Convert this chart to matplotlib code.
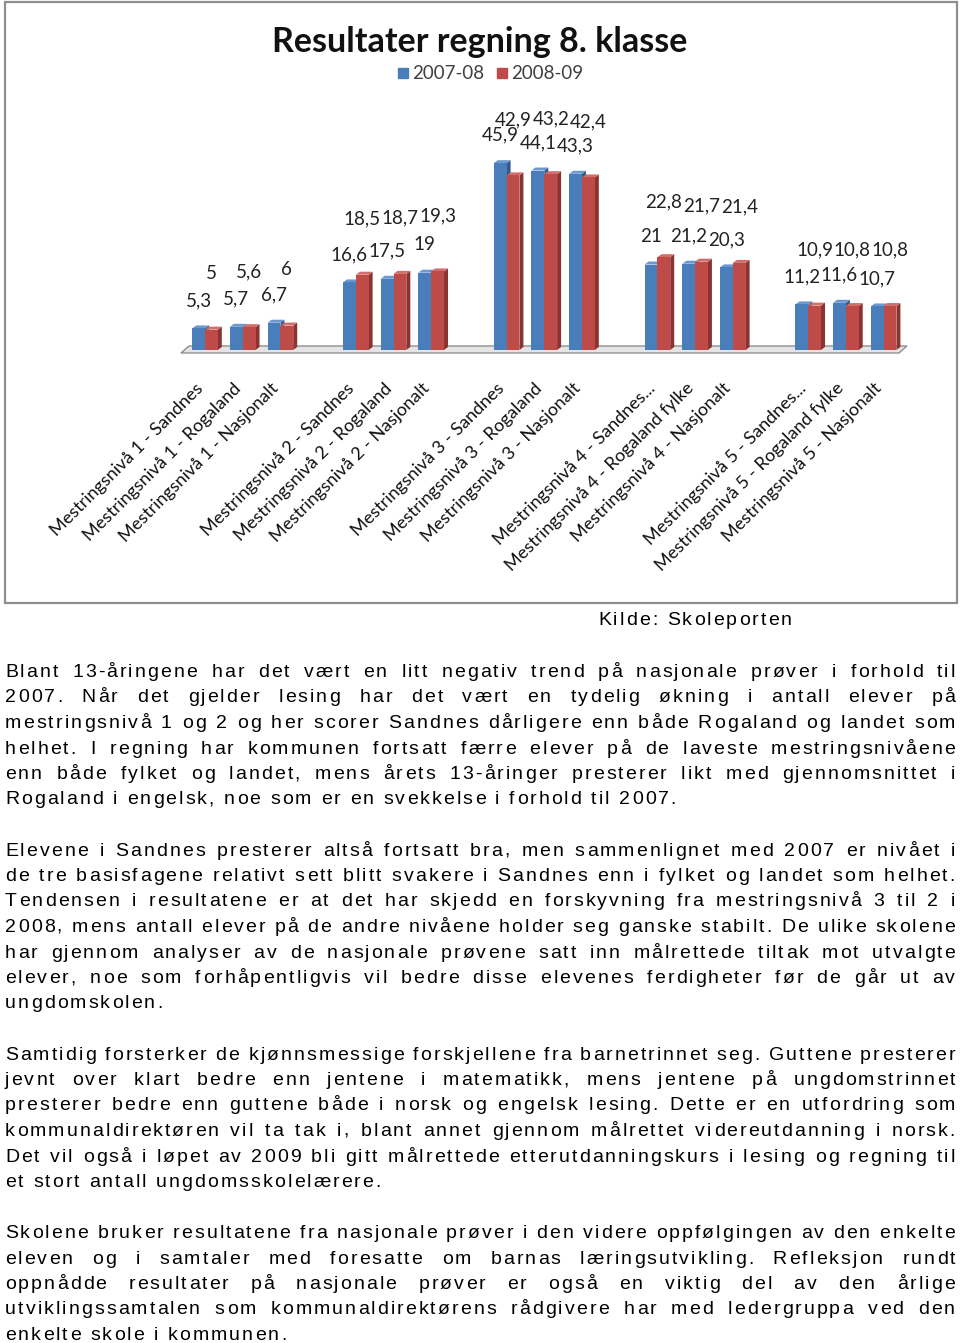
import matplotlib
matplotlib.use("Agg")
import matplotlib.pyplot as plt
from matplotlib.patches import Rectangle, Polygon
from matplotlib.transforms import ScaledTranslation
from matplotlib.font_manager import FontProperties, findfont, get_font

# ---------------- data ----------------
categories = [
    "Mestringsnivå 1 - Sandnes", "Mestringsnivå 1 - Rogaland", "Mestringsnivå 1 - Nasjonalt",
    "Mestringsnivå 2 - Sandnes", "Mestringsnivå 2 - Rogaland", "Mestringsnivå 2 - Nasjonalt",
    "Mestringsnivå 3 - Sandnes", "Mestringsnivå 3 - Rogaland", "Mestringsnivå 3 - Nasjonalt",
    "Mestringsnivå 4 - Sandnes...", "Mestringsnivå 4 - Rogaland fylke", "Mestringsnivå 4 - Nasjonalt",
    "Mestringsnivå 5 - Sandnes...", "Mestringsnivå 5 - Rogaland fylke", "Mestringsnivå 5 - Nasjonalt",
]
series_names = ["2007-08", "2008-09"]
values_2007 = [5.3, 5.7, 6.7, 16.6, 17.5, 19, 45.9, 44.1, 43.3, 21, 21.2, 20.3, 11.2, 11.6, 10.7]
values_2008 = [5, 5.6, 6, 18.5, 18.7, 19.3, 42.9, 43.2, 42.4, 22.8, 21.7, 21.4, 10.9, 10.8, 10.8]
title = "Resultater regning 8. klasse"
source = "Kilde: Skoleporten"

paragraphs = [
    ["Blant 13-åringene har det vært en litt negativ trend på nasjonale prøver i forhold til",
     "2007. Når det gjelder lesing har det vært en tydelig økning i antall elever på",
     "mestringsnivå 1 og 2 og her scorer Sandnes dårligere enn både Rogaland og landet som",
     "helhet.  I regning har kommunen fortsatt færre elever på de laveste mestringsnivåene",
     "enn både fylket og landet, mens årets 13-åringer presterer likt med gjennomsnittet i",
     "Rogaland i engelsk, noe som er en svekkelse i forhold til 2007."],
    ["Elevene i Sandnes presterer altså fortsatt bra, men sammenlignet med 2007 er nivået i",
     "de tre basisfagene relativt sett blitt svakere i Sandnes enn i fylket og landet som helhet.",
     "Tendensen i resultatene er at det har skjedd en forskyvning fra mestringsnivå 3 til 2 i",
     "2008, mens antall elever på de andre nivåene holder seg ganske stabilt. De ulike skolene",
     "har gjennom analyser av de nasjonale prøvene satt inn målrettede tiltak mot utvalgte",
     "elever, noe som forhåpentligvis vil bedre disse elevenes ferdigheter før de går ut av",
     "ungdomskolen."],
    ["Samtidig forsterker de kjønnsmessige forskjellene fra barnetrinnet seg. Guttene presterer",
     "jevnt over klart bedre enn jentene i matematikk, mens jentene på ungdomstrinnet",
     "presterer bedre enn guttene både i norsk og engelsk lesing. Dette er en utfordring som",
     "kommunaldirektøren vil ta tak i, blant annet gjennom målrettet videreutdanning i norsk.",
     "Det vil også i løpet av 2009 bli gitt målrettede etterutdanningskurs i lesing og regning til",
     "et stort antall ungdomsskolelærere."],
    ["Skolene bruker resultatene fra nasjonale prøver i den videre oppfølgingen av den enkelte",
     "eleven og i samtaler med foresatte om barnas læringsutvikling. Refleksjon rundt",
     "oppnådde resultater på nasjonale prøver er også en viktig del av den årlige",
     "utviklingssamtalen som kommunaldirektørens rådgivere har med ledergruppa ved den",
     "enkelte skole i kommunen."],
]

# ---------------- figure ----------------
W, H = 960, 1343
fig = plt.figure(figsize=(W / 100, H / 100), dpi=100)
fig.patch.set_facecolor("white")

bg = fig.add_axes([0, 0, 1, 1])
bg.set_xlim(0, W)
bg.set_ylim(H, 0)
bg.axis("off")

# chart frame
bg.add_patch(Rectangle((5, 2), 952, 601, fill=False, edgecolor="#8e8e8e", lw=1.6))

# title + legend
chart_font = "Lato"
bg.text(480, 42, title, ha="center", va="center", fontsize=24.5,
        fontweight="bold", family=chart_font, color="#111111")
blue, red = "#4a7ebb", "#be4b48"
blue_dark, red_dark = "#34598a", "#8a3331"
blue_top, red_top = "#6c98cf", "#d06e6b"
leg_x = [398, 497]
for lx, name, col in zip(leg_x, series_names, [blue, red]):
    bg.add_patch(Rectangle((lx, 68), 10, 10, color=col))
    bg.text(lx + 14, 73.5, name, ha="left", va="center", fontsize=13.5,
            family=chart_font, color="#404040")

# floor
bg.add_patch(Polygon([(181, 353), (899, 353), (907, 346), (189, 346)],
                     closed=True, facecolor="#e4e4e4", edgecolor="#909090", lw=1.0))

# chart axes
slot_px = 37.7
left_px, right_px, base_px, top_px = 183, 905, 350, 100
ax = fig.add_axes([left_px / W, (H - base_px) / H,
                   (right_px - left_px) / W, (base_px - top_px) / H])
x0 = -(205 - left_px) / slot_px
ax.set_xlim(x0, x0 + (right_px - left_px) / slot_px)
ymax = (base_px - top_px) / 4.07
ax.set_ylim(0, ymax)
ax.axis("off")
ax.patch.set_alpha(0)

slots = [g * 4 + i for g in range(5) for i in range(3)]
bw = 0.34
dx = 4 / slot_px
dy = 3 / 4.07


def draw_bar(xc, v, front, side, topc):
    xl, xr = xc - bw / 2, xc + bw / 2
    ax.add_patch(Polygon([(xr, 0), (xr + dx, dy), (xr + dx, v + dy), (xr, v)],
                         closed=True, facecolor=side, edgecolor="none"))
    ax.add_patch(Polygon([(xl, v), (xr, v), (xr + dx, v + dy), (xl + dx, v + dy)],
                         closed=True, facecolor=topc, edgecolor="none"))
    ax.bar([xc], [v], width=bw, color=front, edgecolor="none")


for s, vb, vr in zip(slots, values_2007, values_2008):
    draw_bar(s - bw / 2, vb, blue, blue_dark, blue_top)
    draw_bar(s + bw / 2, vr, red, red_dark, red_top)

# data labels
for s, vb, vr in zip(slots, values_2007, values_2008):
    ax.annotate(f"{vb:g}".replace(".", ","), (s - bw / 2, vb), xytext=(0, 14),
                textcoords="offset points", ha="center", va="bottom",
                fontsize=13.5, family=chart_font, color="#222222", annotation_clip=False)
    ax.annotate(f"{vr:g}".replace(".", ","), (s + bw / 2, vr), xytext=(0, 34),
                textcoords="offset points", ha="center", va="bottom",
                fontsize=13.5, family=chart_font, color="#222222", annotation_clip=False)

# category labels
off = ScaledTranslation(-10 / 100, -30 / 100, fig.dpi_scale_trans)
for s, lab in zip(slots, categories):
    ax.text(s, 0, lab, transform=ax.transData + off, rotation=45,
            rotation_mode="anchor", ha="right", va="top", fontsize=13,
            family=chart_font, color="#111111", clip_on=False)

# ---------------- body text ----------------
prop = FontProperties(family="Liberation Sans", size=14)
ft = get_font(findfont(prop))
ft.set_size(14, 100)
track = 2.1


def adv(c):
    g = ft.load_char(ord(c))
    return g.linearHoriAdvance / 65536


def word_w(w):
    return sum(adv(c) for c in w) + track * (len(w) - 1)


def draw_line(text, y, x_left, justify, width):
    words = text.split()
    nat = sum(word_w(w) for w in words)
    if justify and len(words) > 1:
        gap = (width - nat) / (len(words) - 1)
    else:
        gap = adv(" ") + 2 * track
    x = x_left
    for w in words:
        for c in w:
            bg.text(x, y, c, fontproperties=prop, ha="left", va="baseline", color="black")
            x += adv(c) + track
        x += gap - track


draw_line(source, 625, 598, False, 0)

base0, lh = 677, 25.5
idx = 0
for para in paragraphs:
    for j, line in enumerate(para):
        draw_line(line, base0 + lh * idx, 5, j < len(para) - 1, 950)
        idx += 1
    idx += 1

fig.savefig("out.png", dpi=100, facecolor="white")
